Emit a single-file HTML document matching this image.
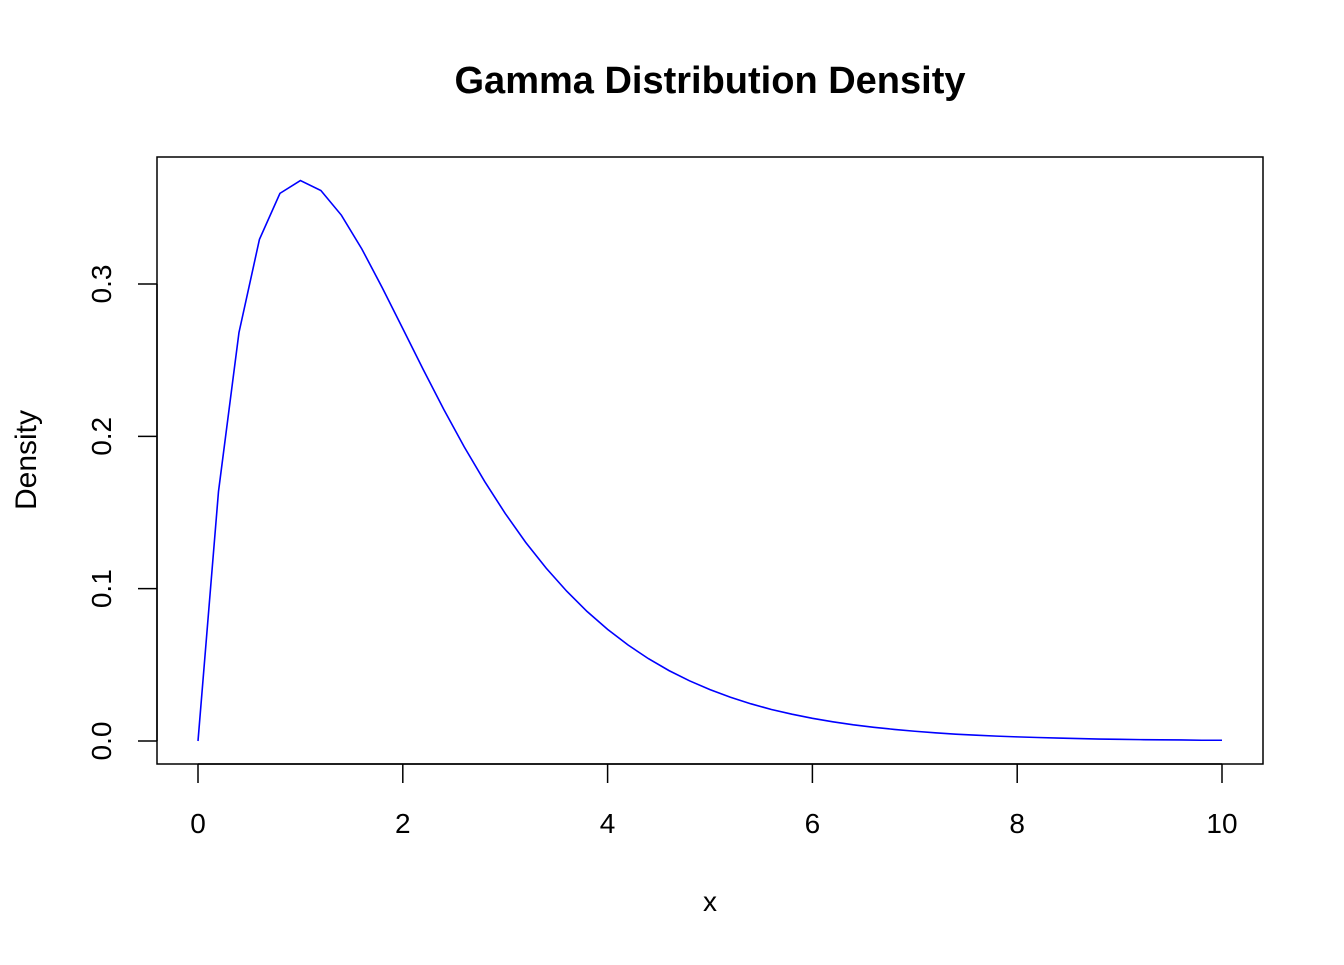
<!DOCTYPE html>
<html><head><meta charset="utf-8"><style>
html,body{margin:0;padding:0;background:#fff;}
svg text{font-family:"Liberation Sans",Arial,sans-serif;fill:#000;}
</style></head><body>
<svg id="chart" width="1344" height="960" xmlns="http://www.w3.org/2000/svg">
<rect width="1344" height="960" fill="#fff"/>
<text x="710" y="93" text-anchor="middle" font-size="38" font-weight="bold">Gamma Distribution Density</text>
<rect x="157" y="157" width="1106" height="607" fill="none" stroke="#000" stroke-width="1.5"/>
<g id="xaxis"></g>
<g id="yaxis"></g>
<text x="710" y="911" text-anchor="middle" font-size="28">x</text>
<text transform="translate(36,460) rotate(-90)" text-anchor="middle" font-size="30">Density</text>
<polyline id="curve" fill="none" stroke="#0000ff" stroke-width="1.6"/>
</svg>
<script>
const xValues = [0,0.2,0.4,0.6,0.8,1.0,1.2,1.4,1.6,1.8,2.0,2.2,2.4,2.6,2.8,3.0,3.2,3.4,3.6,3.8,4.0,4.2,4.4,4.6,4.8,5.0,5.2,5.4,5.6,5.8,6.0,6.2,6.4,6.6,6.8,7.0,7.2,7.4,7.6,7.8,8.0,8.2,8.4,8.6,8.8,9.0,9.2,9.4,9.6,9.8,10];
const densityValues = [0,0.1637,0.2681,0.3293,0.3595,0.3679,0.3614,0.3452,0.3230,0.2975,0.2707,0.2438,0.2177,0.1931,0.1703,0.1494,0.1304,0.1135,0.0984,0.0850,0.0733,0.0630,0.0540,0.0462,0.0395,0.0337,0.0287,0.0244,0.0207,0.0176,0.0149,0.0126,0.0106,0.0090,0.0076,0.0064,0.0054,0.0045,0.0038,0.0032,0.0027,0.0023,0.0019,0.0016,0.0013,0.0011,0.0009,0.0008,0.0007,0.0005,0.0005];
const xTicks = [0,2,4,6,8,10];
const xTickLabels = ["0","2","4","6","8","10"];
const yTicks = [0,0.1,0.2,0.3];
const yTickLabels = ["0.0","0.1","0.2","0.3"];

const NS = "http://www.w3.org/2000/svg";
function sx(v){ return 198 + v * 102.4; }
function sy(v){ return 741 - v * 1523.3; }

const curve = document.getElementById('curve');
curve.setAttribute('points', xValues.map((x,i)=>sx(x)+','+sy(densityValues[i])).join(' '));

const xa = document.getElementById('xaxis');
const xl = document.createElementNS(NS,'line');


xl.setAttribute('x1',sx(xTicks[0])); xl.setAttribute('x2',sx(xTicks[xTicks.length-1]));
xl.setAttribute('y1',764); xl.setAttribute('y2',764);
xl.setAttribute('stroke','#000'); xl.setAttribute('stroke-width','1.5');
xa.appendChild(xl);
xTicks.forEach((t,i)=>{
  const l = document.createElementNS(NS,'line');
  
  
  l.setAttribute('x1',sx(t)); l.setAttribute('x2',sx(t));
  l.setAttribute('y1',764); l.setAttribute('y2',783);
  l.setAttribute('stroke','#000'); l.setAttribute('stroke-width','1.5');
  xa.appendChild(l);
  const tx = document.createElementNS(NS,'text');
  
  
  tx.setAttribute('x',sx(t)); tx.setAttribute('y',833);
  tx.setAttribute('text-anchor','middle'); tx.setAttribute('font-size','28');
  tx.textContent = xTickLabels[i];
  xa.appendChild(tx);
});

const ya = document.getElementById('yaxis');
const yl = document.createElementNS(NS,'line');


yl.setAttribute('x1',157); yl.setAttribute('x2',157);
yl.setAttribute('y1',sy(yTicks[0])); yl.setAttribute('y2',sy(yTicks[yTicks.length-1]));
yl.setAttribute('stroke','#000'); yl.setAttribute('stroke-width','1.5');
ya.appendChild(yl);
yTicks.forEach((t,i)=>{
  const l = document.createElementNS(NS,'line');
  
  
  l.setAttribute('x1',138); l.setAttribute('x2',157);
  l.setAttribute('y1',sy(t)); l.setAttribute('y2',sy(t));
  l.setAttribute('stroke','#000'); l.setAttribute('stroke-width','1.5');
  ya.appendChild(l);
  const tx = document.createElementNS(NS,'text');
  
  
  tx.setAttribute('transform','translate(111,'+sy(t)+') rotate(-90)');
  tx.setAttribute('text-anchor','middle'); tx.setAttribute('font-size','28');
  tx.textContent = yTickLabels[i];
  ya.appendChild(tx);
});
</script>
</body></html>
